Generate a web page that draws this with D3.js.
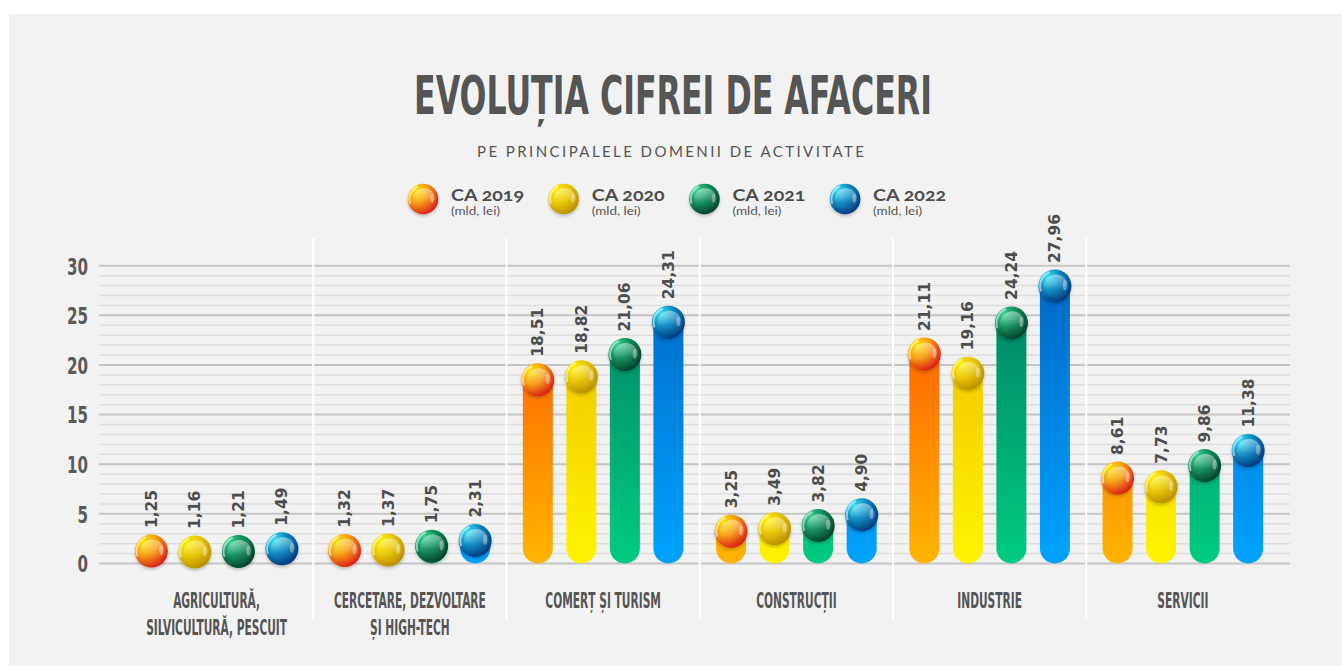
<!DOCTYPE html>
<html>
<head>
<meta charset="utf-8">
<script src="https://cdn.jsdelivr.net/npm/d3@7"></script>
<style>
  body { margin: 0; background: #fff; }
  svg { display: block; }
</style>
</head>
<body>
<div id="chart"></div>
<script>
// Data (mld. lei)
const categories = [
    'AGRICULTURĂ,|SILVICULTURĂ, PESCUIT',
    'CERCETARE, DEZVOLTARE|ȘI HIGH-TECH',
    'COMERȚ ȘI TURISM',
    'CONSTRUCȚII',
    'INDUSTRIE',
    'SERVICII'
];
const years = ['CA 2019', 'CA 2020', 'CA 2021', 'CA 2022'];
const ca2019 = [1.25, 1.32, 18.51, 3.25, 21.11, 8.61];
const ca2020 = [1.16, 1.37, 18.82, 3.49, 19.16, 7.73];
const ca2021 = [1.21, 1.75, 21.06, 3.82, 24.24, 9.86];
const ca2022 = [1.49, 2.31, 24.31, 4.90, 27.96, 11.38];
const yTicks = [0, 5, 10, 15, 20, 25, 30];

const series = [ca2019, ca2020, ca2021, ca2022];

// colours per year: bar top/bottom, sphere light/mid/dark
const barColors = [
    ['#ff5a00', '#ffb400'],
    ['#f0bf00', '#fff400'],
    ['#008566', '#00cc80'],
    ['#006ecb', '#00a3ff']
];
const ballColors = [
    ['#ffe400', '#f49a10', '#d81414'],
    ['#fff000', '#e8c400', '#b88a00'],
    ['#3ad494', '#0f8a58', '#003d28'],
    ['#3ae2f4', '#0a86c0', '#003378']
];

const width = 1342;
const height = 666;
const narrow = '"Liberation Sans Narrow", "DejaVu Sans Condensed", sans-serif';

const svg = d3.select('#chart').append('svg')
    .attr('width', width)
    .attr('height', height);

const defs = svg.append('defs');

// scales
const x0 = d3.scaleBand()
    .domain(categories)
    .range([120, 1279.5])
    .padding(0);

const x1 = d3.scaleBand()
    .domain(years)
    .range([0, x0.bandwidth()])
    .paddingInner(0)
    .paddingOuter(0.22);

const y = d3.scaleLinear()
    .domain([0, 30])
    .range([563.5, 265.7]);

const fmt = d3.formatLocale({ decimal: ',', thousands: '.', grouping: [3], currency: ['', ' lei'] }).format('.2f');

const barW = 30;
const ballR = 16.5;

// gradients
years.forEach((yr, j) => {
    const lg = defs.append('linearGradient')
        .attr('id', 'bar' + j)
        .attr('gradientUnits', 'userSpaceOnUse')
        .attr('x1', 0).attr('x2', 0)
        .attr('y1', y(26)).attr('y2', y(0));
    lg.append('stop').attr('offset', 0).attr('stop-color', barColors[j][0]);
    lg.append('stop').attr('offset', 1).attr('stop-color', barColors[j][1]);

    const rg = defs.append('radialGradient')
        .attr('id', 'ball' + j)
        .attr('cx', 0.32).attr('cy', 0.28).attr('r', 0.8)
        .attr('fx', 0.25).attr('fy', 0.2);
    rg.append('stop').attr('offset', 0).attr('stop-color', ballColors[j][0]);
    rg.append('stop').attr('offset', 0.5).attr('stop-color', ballColors[j][1]);
    rg.append('stop').attr('offset', 1).attr('stop-color', ballColors[j][2]);
});

const shine = defs.append('linearGradient')
    .attr('id', 'shine')
    .attr('x1', 0).attr('x2', 0).attr('y1', 0).attr('y2', 1);
shine.append('stop').attr('offset', 0).attr('stop-color', '#fff').attr('stop-opacity', 0.45);
shine.append('stop').attr('offset', 0.6).attr('stop-color', '#fff').attr('stop-opacity', 0.05);
shine.append('stop').attr('offset', 1).attr('stop-color', '#fff').attr('stop-opacity', 0);

const shadow = defs.append('filter')
    .attr('id', 'shadow')
    .attr('x', '-30%').attr('y', '-30%').attr('width', '160%').attr('height', '170%');
shadow.append('feDropShadow')
    .attr('dx', 0).attr('dy', 2)
    .attr('stdDeviation', 1.6)
    .attr('flood-color', '#000')
    .attr('flood-opacity', 0.22);

// background panel
svg.append('rect')
    .attr('x', 9).attr('y', 14)
    .attr('width', width - 9).attr('height', height - 14)
    .attr('fill', '#f2f2f2');

// squeeze a text horizontally around its anchor so it reaches a target width
function squeezeTo(sel, cx, cy, target) {
    const w = sel.node().getComputedTextLength();
    sel.attr('x', 0).attr('y', 0)
        .attr('transform', `translate(${cx},${cy}) scale(${target / w},1)`);
}

// title
const title = svg.append('text')
    .attr('text-anchor', 'middle')
    .style('font-family', narrow)
    .style('font-weight', 700)
    .style('font-size', '54px')
    .style('fill', '#555')
    .text('EVOLUȚIA CIFREI DE AFACERI');
squeezeTo(title, 673, 113.5, 518);

svg.append('text')
    .attr('x', 670.5).attr('y', 156.5)
    .attr('text-anchor', 'middle')
    .attr('textLength', 387)
    .attr('lengthAdjust', 'spacing')
    .style('font-family', 'Lato, "Open Sans", sans-serif')
    .style('font-size', '15px')
    .style('fill', '#555')
    .text('PE PRINCIPALELE DOMENII DE ACTIVITATE');

// sphere drawing helper
function ball(g, cx, cy, r, j) {
    const b = g.append('g').attr('filter', 'url(#shadow)');
    b.append('circle')
        .attr('cx', cx).attr('cy', cy).attr('r', r)
        .attr('fill', `url(#ball${j})`);
    b.append('circle')
        .attr('cx', cx + r * 0.06).attr('cy', cy + r * 0.04).attr('r', r * 0.74)
        .attr('fill', 'url(#shine)');
    const arc = d3.arc()
        .innerRadius(r * 0.84).outerRadius(r * 0.96)
        .startAngle(-Math.PI * 0.62).endAngle(-Math.PI * 0.12)
        .cornerRadius(2);
    b.append('path')
        .attr('transform', `translate(${cx},${cy})`)
        .attr('d', arc())
        .attr('fill', '#fff').attr('opacity', 0.55);
    b.append('ellipse')
        .attr('cx', cx + r * 0.6).attr('cy', cy - r * 0.05)
        .attr('rx', r * 0.12).attr('ry', r * 0.3)
        .attr('fill', '#fff').attr('opacity', 0.35);
}

// legend
const legend = svg.append('g');
years.forEach((yr, j) => {
    const lx = 423 + j * 140.7;
    ball(legend, lx, 199, 15.3, j);
    legend.append('text')
        .attr('x', lx + 28).attr('y', 201)
        .attr('textLength', 73)
        .attr('lengthAdjust', 'spacingAndGlyphs')
        .style('font-family', 'Lato, "Open Sans", sans-serif')
        .style('font-weight', 700)
        .style('font-size', '17px')
        .style('font-variant-numeric', 'oldstyle-nums')
        .style('fill', '#4d4d4d')
        .text(yr);
    legend.append('text')
        .attr('x', lx + 28).attr('y', 214.5)
        .attr('textLength', 49)
        .attr('lengthAdjust', 'spacingAndGlyphs')
        .style('font-family', 'Lato, "Open Sans", sans-serif')
        .style('font-size', '10.5px')
        .style('fill', '#555')
        .text('(mld, lei)');
});

// grid lines, one every unit, darker every 5
svg.append('g')
    .selectAll('line')
    .data(y.ticks(30))
    .join('line')
    .attr('x1', 99).attr('x2', 1290)
    .attr('y1', d => y(d)).attr('y2', d => y(d))
    .attr('stroke', d => d % 5 === 0 ? '#c5c5c5' : '#dedede')
    .attr('stroke-width', d => d % 5 === 0 ? 2 : 1.5);

// white separators between domains
svg.append('g')
    .selectAll('line')
    .data(categories.slice(1))
    .join('line')
    .attr('x1', d => x0(d)).attr('x2', d => x0(d))
    .attr('y1', 238).attr('y2', 620)
    .attr('stroke', '#fff')
    .attr('stroke-width', 2);

// y axis labels
const yAxis = svg.append('g')
    .attr('transform', 'translate(88,0)')
    .call(d3.axisLeft(y).tickValues(yTicks).tickSize(0).tickPadding(0));
yAxis.select('.domain').remove();
yAxis.selectAll('text')
    .attr('dy', null)
    .attr('y', 8.3)
    .style('font-family', narrow)
    .style('font-weight', 700)
    .style('font-size', '23px')
    .style('fill', '#5a5a5a');
// narrow the digits so "30" is about 21px wide, like the reference
const refTick = yAxis.selectAll('text').filter(d => d === 30).node();
const tickSx = 21 / refTick.getComputedTextLength();
yAxis.selectAll('text')
    .attr('x', 0)
    .attr('transform', `scale(${tickSx},1)`);

// bars
const rows = categories.map((c, i) => ({
    cat: c,
    vals: years.map((yr, j) => ({ year: yr, j: j, v: series[j][i] }))
}));

function barPath(cx, v) {
    const r = barW / 2;
    const y0 = y(0);
    const yt = Math.min(y(v), y0 - r);
    return `M${cx - r},${yt} L${cx + r},${yt} L${cx + r},${y0 - r} A${r},${r} 0 0 1 ${cx - r},${y0 - r} Z`;
}

const groups = svg.append('g')
    .selectAll('g')
    .data(rows)
    .join('g')
    .attr('transform', d => `translate(${x0(d.cat)},0)`);

groups.selectAll('path.bar')
    .data(d => d.vals)
    .join('path')
    .attr('class', 'bar')
    .attr('d', d => barPath(x1(d.year) + x1.bandwidth() / 2, d.v))
    .attr('fill', d => `url(#bar${d.j})`);

groups.each(function (row) {
    const g = d3.select(this);
    row.vals.forEach(d => {
        ball(g, x1(d.year) + x1.bandwidth() / 2, y(d.v), ballR, d.j);
    });
});

groups.selectAll('text.val')
    .data(d => d.vals)
    .join('text')
    .attr('class', 'val')
    .attr('transform', d => `translate(${x1(d.year) + x1.bandwidth() / 2 + 5.5},${y(d.v) - ballR - 6.5}) rotate(-90)`)
    .attr('text-anchor', 'start')
    .style('font-family', '"DejaVu Sans", Verdana, sans-serif')
    .style('font-weight', 700)
    .style('font-size', '15.5px')
    .style('fill', '#4d4d4d')
    .text(d => fmt(d.v));

// category labels, condensed to match the reference
const xLabels = svg.append('g');
categories.forEach(c => {
    const lines = c.split('|');
    lines.forEach((ln, k) => {
        xLabels.append('text')
            .attr('class', 'xl')
            .datum({ cx: x0(c) + x0.bandwidth() / 2, cy: 608.3 + k * 26.7 })
            .attr('text-anchor', 'middle')
            .style('font-family', narrow)
            .style('font-weight', 700)
            .style('font-size', '22px')
            .style('fill', '#555')
            .text(ln);
    });
});
const refNode = xLabels.selectAll('text.xl').filter(function () {
    return d3.select(this).text() === 'SILVICULTURĂ, PESCUIT';
}).node();
const labelSx = 141 / refNode.getComputedTextLength();
xLabels.selectAll('text.xl')
    .attr('x', 0).attr('y', 0)
    .attr('transform', d => `translate(${d.cx},${d.cy}) scale(${labelSx},1)`);
</script>
</body>
</html>
